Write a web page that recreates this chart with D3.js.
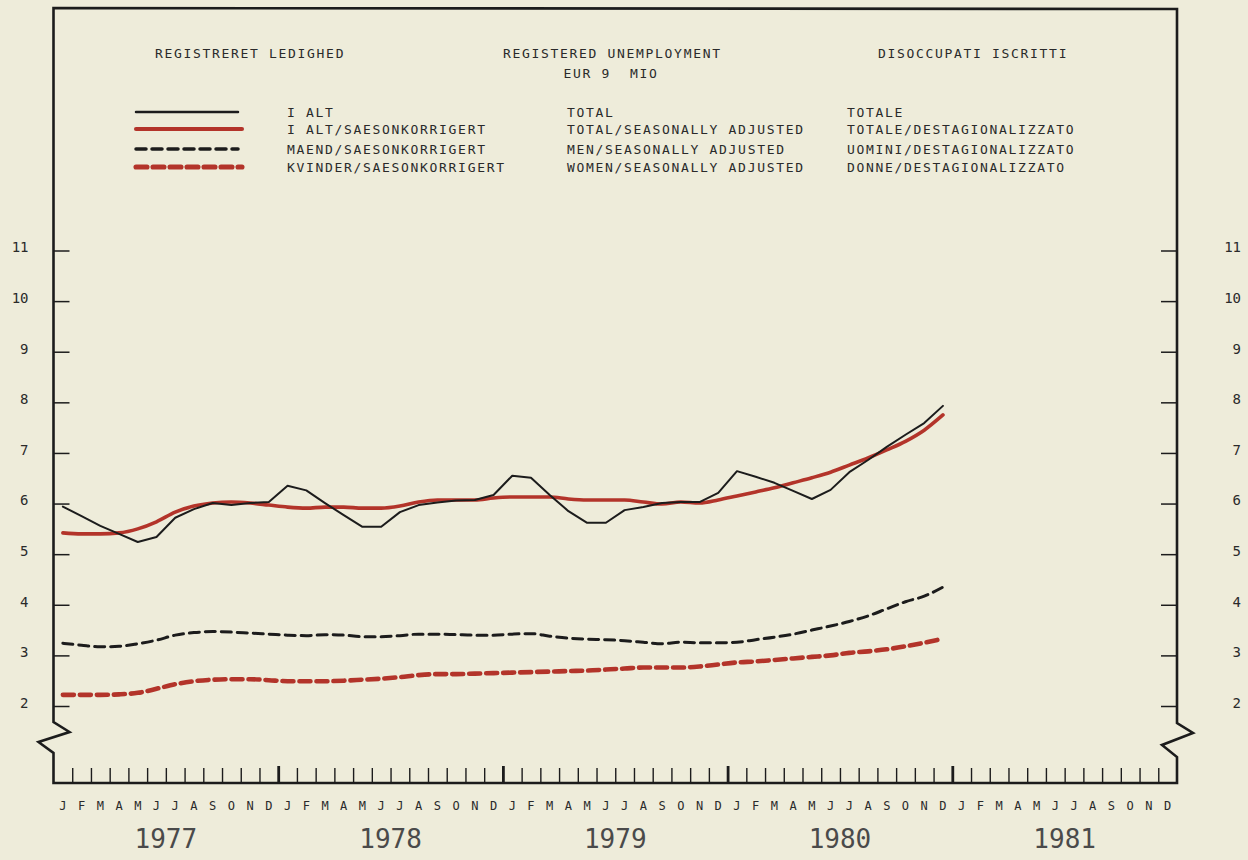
<!DOCTYPE html>
<html><head><meta charset="utf-8">
<script src="https://cdn.jsdelivr.net/npm/d3@7"></script>
<style>
html,body{margin:0;padding:0;background:#eeecda;}
svg{display:block;}
text{font-family:"DejaVu Sans Mono",monospace;white-space:pre;}
</style></head><body>
<svg id="chart" width="1248" height="860"></svg>
<script>
// ---------- data ----------
const monthLabels = ["J","F","M","A","M","J","J","A","S","O","N","D"];
const years = ["1977","1978","1979","1980","1981"];
const yTicks = [2,3,4,5,6,7,8,9,10,11];

// Registered unemployment, EUR 9, millions, Jan 1977 - Dec 1980
const totalRaw = [
  5.94,5.75,5.56,5.40,5.24,5.34,5.72,5.89,6.01,5.97,6.01,6.03,
  6.35,6.26,6.01,5.77,5.54,5.54,5.83,5.97,6.02,6.06,6.07,6.17,
  6.55,6.51,6.17,5.85,5.62,5.62,5.87,5.93,6.01,6.03,6.03,6.21,
  6.64,6.53,6.41,6.25,6.09,6.27,6.62,6.86,7.12,7.36,7.59,7.93
];
const totalSA = [
  5.42,5.40,5.40,5.42,5.50,5.64,5.83,5.95,6.01,6.03,6.01,5.97,
  5.93,5.91,5.93,5.93,5.91,5.91,5.95,6.03,6.07,6.07,6.07,6.11,
  6.13,6.13,6.13,6.09,6.07,6.07,6.07,6.03,5.99,6.03,6.01,6.07,
  6.15,6.23,6.31,6.41,6.51,6.62,6.76,6.90,7.06,7.23,7.45,7.75
];
const menSA = [
  3.24,3.20,3.17,3.18,3.23,3.30,3.40,3.45,3.47,3.46,3.44,3.42,
  3.40,3.39,3.41,3.40,3.37,3.37,3.39,3.42,3.42,3.41,3.40,3.40,
  3.42,3.43,3.38,3.34,3.32,3.31,3.29,3.26,3.23,3.26,3.25,3.25,
  3.26,3.31,3.36,3.42,3.50,3.58,3.67,3.78,3.92,4.06,4.17,4.35
];
const womenSA = [
  2.22,2.22,2.22,2.23,2.26,2.34,2.43,2.49,2.52,2.53,2.53,2.51,
  2.49,2.49,2.49,2.50,2.52,2.54,2.57,2.61,2.63,2.63,2.64,2.65,
  2.66,2.67,2.68,2.69,2.70,2.72,2.74,2.76,2.76,2.76,2.78,2.82,
  2.86,2.88,2.91,2.94,2.97,3.00,3.05,3.08,3.12,3.18,3.25,3.33
];

const titleDa = "REGISTRERET LEDIGHED";
const titleEn = "REGISTERED UNEMPLOYMENT";
const subtitle = "EUR 9  MIO";
const titleIt = "DISOCCUPATI ISCRITTI";
const legendDa = ["I ALT","I ALT/SAESONKORRIGERT","MAEND/SAESONKORRIGERT","KVINDER/SAESONKORRIGERT"];
const legendEn = ["TOTAL","TOTAL/SEASONALLY ADJUSTED","MEN/SEASONALLY ADJUSTED","WOMEN/SEASONALLY ADJUSTED"];
const legendIt = ["TOTALE","TOTALE/DESTAGIONALIZZATO","UOMINI/DESTAGIONALIZZATO","DONNE/DESTAGIONALIZZATO"];

// ---------- layout ----------
const BLACK = "#1c1c1c", RED = "#b3342a", TEXT = "#2a2a2a";
const L = 53.5, R = 1177, T = 8, B = 783;
const nMonths = years.length * 12;

const svg = d3.select("#chart");
svg.append("rect").attr("width",1248).attr("height",860).attr("fill","#eeecda");

const x = d3.scaleLinear().domain([0, nMonths]).range([L, R]);
const y = d3.scaleLinear().domain([2, 11]).range([706, 250.5]);

// styles per series
const styles = [
  {data: totalSA, color: RED,   width: 3.6, dash: null,   curve: d3.curveMonotoneX},
  {data: womenSA, color: RED,   width: 4.6, dash: "11,6", curve: d3.curveMonotoneX},
  {data: menSA,   color: BLACK, width: 3.0, dash: "10,6", curve: d3.curveMonotoneX},
  {data: totalRaw,color: BLACK, width: 2.0, dash: null,   curve: d3.curveLinear}
];

// ---------- frame with axis breaks ----------
const frame = d3.path();
frame.moveTo(L, T);
frame.lineTo(L, 722); frame.lineTo(L+16, 732); frame.lineTo(L-15, 742); frame.lineTo(L, 753);
frame.lineTo(L, B); frame.lineTo(R, B);
frame.lineTo(R, 757); frame.lineTo(R-15, 745); frame.lineTo(R+16, 733); frame.lineTo(R, 723);
frame.lineTo(R, T+1); frame.closePath();
svg.append("path").attr("d", frame.toString()).attr("fill","none")
  .attr("stroke", BLACK).attr("stroke-width", 2.6).attr("stroke-linejoin","miter");

// ---------- y axes ----------
const yLeft = svg.append("g").attr("transform", `translate(${L},0)`)
  .call(d3.axisLeft(y).tickValues(yTicks).tickSizeInner(-16).tickSizeOuter(0).tickPadding(25).tickFormat(d3.format("d")));
const yRight = svg.append("g").attr("transform", `translate(${R},0)`)
  .call(d3.axisRight(y).tickValues(yTicks).tickSizeInner(-16).tickSizeOuter(0).tickPadding(64).tickFormat(d3.format("d")));
[yLeft, yRight].forEach(g => {
  g.select(".domain").remove();
  g.selectAll(".tick line").attr("stroke", BLACK).attr("stroke-width", 1.5);
  g.selectAll(".tick text").attr("fill", TEXT).attr("font-size", 14)
    .attr("font-family", '"DejaVu Sans Mono", monospace').attr("dy","0.1em");
});
yRight.selectAll(".tick text").attr("text-anchor","end");

// ---------- x axis ----------
const minorTicks = d3.range(1, nMonths);
const xAxis = svg.append("g").attr("transform", `translate(0,${B})`)
  .call(d3.axisBottom(x).tickValues(minorTicks).tickSizeInner(-15).tickSizeOuter(0).tickFormat(""));
xAxis.select(".domain").remove();
xAxis.selectAll(".tick line").attr("stroke", BLACK)
  .attr("stroke-width", d => d % 12 === 0 ? 2.8 : 1.4)
  .attr("y2", d => d % 12 === 0 ? -17 : -15);

// month letters
const monthIdx = d3.range(nMonths);
svg.append("g").selectAll("text").data(monthIdx).join("text")
  .attr("x", d => x(d + 0.5)).attr("y", 810)
  .attr("text-anchor","middle").attr("font-size", 12).attr("fill", TEXT)
  .text(d => monthLabels[d % 12]);

// years
svg.append("g").selectAll("text").data(years).join("text")
  .attr("x", (d,i) => x(i*12 + 6)).attr("y", 848)
  .attr("text-anchor","middle").attr("font-size", 26).attr("fill", "#4a4a4a")
  .text(d => d);

// ---------- series ----------
styles.forEach(s => {
  const line = d3.line().x((d,i) => x(i + 0.5)).y(d => y(d)).curve(s.curve);
  svg.append("path").datum(s.data).attr("d", line).attr("fill","none")
    .attr("stroke", s.color).attr("stroke-width", s.width)
    .attr("stroke-dasharray", s.dash).attr("stroke-linecap", "round")
    .attr("stroke-linejoin","round");
});

// ---------- titles & legend ----------
const tSize = 13, tSpace = 1.68;
function txt(str, xx, yy, anchor) {
  return svg.append("text").attr("x", xx).attr("y", yy).attr("font-size", tSize)
    .attr("letter-spacing", tSpace).attr("fill", TEXT)
    .attr("text-anchor", anchor || "start").text(str);
}
txt(titleDa, 155, 58);
txt(titleEn, 503, 58);
txt(subtitle, 611, 78, "middle");
txt(titleIt, 878, 58);

const legendY = [112, 129, 149, 167];
const legendStyle = [styles[3], styles[0], styles[2], styles[1]];
legendY.forEach((ly, i) => {
  const s = legendStyle[i];
  svg.append("line").attr("x1", 136).attr("x2", i % 2 ? 242 : 238)
    .attr("y1", ly).attr("y2", ly).attr("stroke", s.color)
    .attr("stroke-width", s.width + 0.5).attr("stroke-dasharray", s.dash)
    .attr("stroke-linecap","round");
  txt(legendDa[i], 287, ly + 5);
  txt(legendEn[i], 567, ly + 5);
  txt(legendIt[i], 847, ly + 5);
});
</script>
</body></html>
